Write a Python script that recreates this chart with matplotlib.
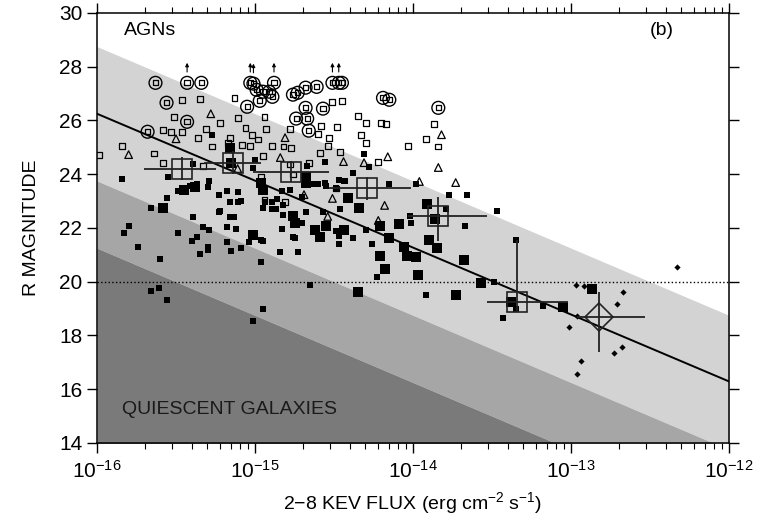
import numpy as np
import matplotlib
matplotlib.use("Agg")
import matplotlib.pyplot as plt
from matplotlib.ticker import NullFormatter, FixedLocator, FixedFormatter

plt.rcParams['font.family'] = ['Liberation Sans', 'DejaVu Sans']
plt.rcParams['mathtext.fontset'] = 'custom'
plt.rcParams['mathtext.rm'] = 'Liberation Sans'
plt.rcParams['mathtext.it'] = 'Liberation Sans'

# log10 of 2-8 keV flux and R magnitude
# filled squares (small)
fsq_lx = [-15.27, -14.31, -14.38, -14.28, -14.44, -14.15, -13.98, -13.77, -13.66, -13.79,
          -14.02, -14.01, -13.67, -14.38, -13.47, -13.35, -13.49, -13.92, -14.23, -14.26,
          -14.30, -13.43, -13.35, -13.18, -15.84, -15.66, -15.56, -15.80, -15.83, -15.74,
          -15.60, -15.49, -15.39, -15.33, -15.29, -15.40, -15.37, -15.35, -15.30, -15.23,
          -15.18, -15.16, -15.13, -15.18, -15.15, -15.09, -15.04, -14.95, -14.96, -14.84,
          -14.73, -14.82, -14.75, -14.68, -14.70, -14.49, -15.66, -15.61, -15.56, -14.95,
          -15.01, -14.65, -15.18, -15.11, -15.23, -15.16, -15.11, -14.94, -14.89, -14.86,
          -14.83, -14.78, -14.70, -14.67, -14.60, -14.55, -14.49, -14.87, -14.82, -14.57,
          -14.95, -15.41, -15.37, -15.46, -15.49, -15.30, -15.29, -15.55, -15.39, -15.22,
          -15.30, -15.00, -15.01, -14.67, -14.56, -14.56, -14.63, -14.47, -14.43, -15.09,
          -15.12, -14.89, -14.46, -14.83, -14.47, -14.96, -14.76, -14.47]
fsq_m = [25.47, 24.77, 24.06, 24.28, 23.73, 23.65, 23.62, 23.24, 23.24, 22.69,
         22.43, 22.20, 22.06, 21.61, 22.65, 21.54, 19.98, 19.50, 20.16, 21.39,
         21.91, 18.64, 18.98, 19.09, 23.84, 22.76, 23.13, 22.06, 21.83, 21.28,
         20.83, 21.83, 22.39, 22.02, 21.94, 21.50, 21.65, 21.02, 21.17, 22.61,
         22.02, 22.39, 22.39, 21.46, 21.13, 21.24, 21.46, 21.50, 20.72, 21.09,
         21.09, 22.50, 21.61, 22.61, 22.20, 21.87, 19.64, 19.76, 19.31, 18.98,
         18.53, 19.87, 23.36, 23.32, 23.24, 22.98, 22.98, 22.98, 22.95, 23.06,
         23.36, 23.43, 23.17, 23.73, 23.62, 23.58, 23.47, 22.72, 22.87, 22.58,
         22.76, 23.58, 23.62, 23.43, 23.36, 23.54, 23.76, 23.88, 24.39, 22.65,
         21.28, 24.54, 24.25, 24.32, 24.47, 23.69, 23.62, 23.80, 23.73, 23.02,
         21.98, 22.69, 22.69, 21.98, 21.69, 21.57, 21.65, 21.39]

# filled squares (large)
bsq_lx = [-15.58, -15.45, -15.38, -15.16, -15.15, -14.95, -14.96, -15.01, -14.75, -14.62,
          -14.55, -14.68, -14.68, -14.76, -14.59, -14.41, -14.34, -14.44, -14.21, -14.09,
          -14.15, -13.90, -13.91, -13.86, -13.85, -13.68, -13.97, -13.73, -14.04, -14.21,
          -14.18, -14.06, -13.98, -13.57, -14.35, -13.38, -13.05, -12.87]
bsq_m = [22.76, 23.43, 23.54, 24.99, 24.43, 23.43, 23.69, 21.72, 22.20, 21.94,
         22.09, 23.91, 23.69, 22.43, 21.65, 23.13, 22.76, 21.94, 22.06, 22.13,
         21.61, 21.57, 22.91, 22.32, 21.24, 20.79, 20.24, 19.50, 20.94, 20.94,
         20.46, 21.28, 20.91, 19.94, 19.61, 19.24, 19.05, 19.72]

# open squares
osq_lx = [-15.46, -15.35, -15.13, -15.51, -15.58, -15.53, -15.46, -15.36, -15.31, -15.22,
          -15.11, -14.94, -15.84, -15.99, -15.64, -15.58, -15.33, -14.78, -14.51, -14.45,
          -14.58, -14.48, -14.60, -14.53, -14.54, -14.35, -14.30, -14.20, -14.17, -14.33,
          -14.30, -14.03, -13.87, -13.92, -13.84, -14.22, -15.17, -14.95, -14.89, -14.82,
          -14.77, -14.66, -14.59, -14.46, -14.78, -14.76, -14.96, -14.94, -14.81, -14.49,
          -15.06, -15.02, -14.98, -15.08, -15.03, -14.93, -15.16, -15.27]
osq_m = [26.77, 26.81, 26.84, 26.14, 25.66, 25.58, 25.58, 25.36, 25.69, 25.92,
         26.10, 26.14, 25.06, 24.73, 24.77, 24.43, 24.32, 25.69, 26.70, 26.73,
         25.81, 25.77, 25.51, 25.36, 25.06, 26.18, 25.92, 25.92, 25.88, 25.47,
         25.17, 25.06, 25.88, 25.32, 25.03, 24.47, 25.17, 24.69, 25.06, 25.03,
         24.99, 24.43, 24.80, 24.84, 24.36, 23.99, 23.91, 23.06, 22.98, 23.47,
         25.73, 25.47, 25.29, 25.10, 25.06, 25.69, 25.36, 25.03]

# open triangles
tri_lx = [-15.28, -15.50, -15.80, -14.81, -15.11, -14.84, -14.51, -14.69, -14.54, -13.82,
          -14.16, -14.44, -14.31, -13.84, -13.96, -13.73, -14.18, -14.22]
tri_m = [26.25, 25.32, 24.73, 25.36, 24.21, 24.62, 23.10, 23.24, 22.43, 25.47,
         24.65, 24.47, 24.43, 24.25, 23.73, 23.69, 22.84, 22.28]

# circled sources
cir_lx = [-15.63, -15.43, -15.34, -15.56, -15.43, -15.68, -15.05, -15.03, -15.01, -14.88,
          -14.99, -14.95, -14.91, -14.89, -14.97, -14.73, -14.68, -14.61, -14.68, -14.57,
          -14.74, -14.67, -14.66, -14.51, -14.47, -14.45, -14.19, -14.15, -13.84, -14.76]
cir_m = [27.40, 27.40, 27.40, 26.66, 25.95, 25.58, 26.51, 27.40, 27.37, 27.40,
         27.14, 27.07, 27.07, 26.88, 26.73, 27.03, 27.22, 27.25, 26.47, 26.44,
         26.07, 26.07, 25.62, 27.40, 27.40, 27.40, 26.84, 26.77, 26.47, 26.96]

# lower limits (upward arrows)
arr_lx = [-15.43, -15.03, -15.01, -14.88, -14.51, -14.47]
arr_m = [27.40, 27.40, 27.37, 27.40, 27.40, 27.40]

# filled diamonds
dia_lx = [-12.97, -12.92, -12.67, -12.71, -12.96, -13.01, -12.68, -12.73, -12.94, -12.96, -12.33]
dia_m = [19.87, 19.83, 19.61, 19.16, 18.72, 18.31, 17.56, 17.34, 17.05, 16.56, 20.53]

# binned means with error bars
bin_lx = [-15.46, -15.14, -14.77, -14.29, -13.84, -13.34]
bin_m = [24.21, 24.43, 24.10, 23.47, 22.46, 19.24]
bin_lx_lo = [-15.70, -15.32, -15.01, -14.53, -14.03, -13.53]
bin_lx_hi = [-15.25, -14.96, -14.53, -14.01, -13.53, -13.02]
bin_m_lo = [23.80, 24.00, 23.70, 23.05, 21.50, 18.86]
bin_m_hi = [24.65, 24.85, 24.50, 23.90, 23.17, 21.57]

big_lx, big_m = -12.82, 18.68
big_lx_lo, big_lx_hi = -12.96, -12.53
big_m_lo, big_m_hi = 17.38, 19.61

# fitted relation and fx/fo bands
fit_m0, fit_slope = 26.25, -2.49
band_levels = [1, -1, -2]
band_colors = ['#d3d3d3', '#a6a6a6', '#7a7a7a']

x_ticks = [1e-16, 1e-15, 1e-14, 1e-13, 1e-12]
x_ticklabels = [r'$10^{-16}$', r'$10^{-15}$', r'$10^{-14}$', r'$10^{-13}$', r'$10^{-12}$']

fig = plt.figure(figsize=(7.7, 5.29), dpi=100)
ax = fig.add_axes([0.126, 0.1626, 0.8208, 0.8129])
ax.set_xscale('log')

# shaded bands of constant log(fx/fo)
lxs = np.linspace(-16, -12, 200)
edges = [2.5 * (b - 5.5 - lxs) for b in band_levels] + [np.full_like(lxs, 10.0)]
for i in range(3):
    ax.fill_between(10 ** lxs, edges[i + 1], edges[i], color=band_colors[i], lw=0, zorder=0)

ax.axhline(20, color='k', ls=':', lw=1.0, zorder=1)
ax.plot(10 ** lxs, fit_m0 + fit_slope * (lxs + 16), color='k', lw=1.4, zorder=2)

def fx(a):
    return 10 ** np.asarray(a)

ax.scatter(fx(fsq_lx), fsq_m, marker='s', s=13, color='k', lw=0, zorder=3)
ax.scatter(fx(bsq_lx), bsq_m, marker='s', s=55, color='k', lw=0, zorder=3)
ax.scatter(fx(osq_lx), osq_m, marker='s', s=18, facecolor='none', edgecolor='k', lw=0.9, zorder=3)
ax.scatter(fx(tri_lx), tri_m, marker='^', s=30, facecolor='none', edgecolor='k', lw=0.9, zorder=3)
ax.scatter(fx(cir_lx), cir_m, marker='o', s=85, facecolor='none', edgecolor='k', lw=1.0, zorder=3)
ax.scatter(fx(cir_lx), cir_m, marker='s', s=14, facecolor='none', edgecolor='k', lw=0.9, zorder=3)
ax.scatter(fx(dia_lx), dia_m, marker='D', s=10, color='k', lw=0, zorder=3)

for x, m in zip(arr_lx, arr_m):
    ax.annotate('', xy=(10 ** x, m + 0.85), xytext=(10 ** x, m + 0.3),
                arrowprops=dict(arrowstyle='-|>', lw=0.8, color='k', mutation_scale=5), zorder=3)

# binned points
bx = fx(bin_lx)
xerr = [bx - fx(bin_lx_lo), fx(bin_lx_hi) - bx]
yerr = [np.array(bin_m) - np.array(bin_m_lo), np.array(bin_m_hi) - np.array(bin_m)]
ax.errorbar(bx, bin_m, xerr=xerr, yerr=yerr, fmt='s', ms=15, mfc='none', mec='#222222',
            mew=1.2, ecolor='#222222', elinewidth=1.3, capsize=0, zorder=4)
bgx = 10 ** big_lx
ax.errorbar([bgx], [big_m], xerr=[[bgx - 10 ** big_lx_lo], [10 ** big_lx_hi - bgx]],
            yerr=[[big_m - big_m_lo], [big_m_hi - big_m]], fmt='D', ms=14, mfc='none',
            mec='#222222', mew=1.2, ecolor='#222222', elinewidth=1.3, capsize=0, zorder=4)

ax.set_xlim(1e-16, 1e-12)
ax.set_ylim(14, 30)
ax.set_yticks(range(14, 31, 2))
ax.xaxis.set_major_locator(FixedLocator(x_ticks))
ax.xaxis.set_major_formatter(FixedFormatter(x_ticklabels))
ax.xaxis.set_minor_formatter(NullFormatter())
ax.tick_params(which='both', direction='out', top=True, right=True)
ax.tick_params(axis='y', labelsize=15)
ax.tick_params(axis='x', labelsize=15, pad=5)
ax.tick_params(which='major', length=7, width=1)
ax.tick_params(which='minor', length=4, width=0.8)
for sp in ax.spines.values():
    sp.set_linewidth(1.1)

ax.text(0.043, 0.96, 'AGNs', transform=ax.transAxes, fontsize=14, va='center', ha='left')
ax.text(0.875, 0.96, '(b)', transform=ax.transAxes, fontsize=14, va='center', ha='left')
ax.text(0.04, 0.077, 'QUIESCENT GALAXIES', transform=ax.transAxes, fontsize=14,
        va='center', ha='left', color='#1a1a1a')

ax.set_xlabel(r'2$-$8 KEV FLUX (erg cm$^{-2}$ s$^{-1}$)', fontsize=14, labelpad=6)
ax.set_ylabel('R MAGNITUDE', fontsize=14, labelpad=14)

fig.savefig('out.png', dpi=100)
